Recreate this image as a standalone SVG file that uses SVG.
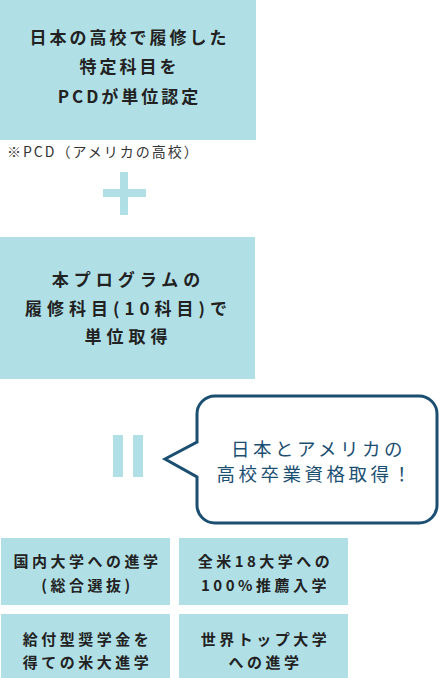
<svg xmlns="http://www.w3.org/2000/svg" width="440" height="678" viewBox="0 0 440 678">
<style>
.box{fill:#b0e0e6}
.t{font-family:"Noto Sans CJK JP","Noto Sans",sans-serif;font-weight:bold;fill:#222;text-anchor:middle}
.t1{font-size:17px;letter-spacing:3px}
.t2{font-size:17px;letter-spacing:5px}
.t3{font-size:15px;letter-spacing:3.5px}
.cap{font-family:"Noto Sans CJK JP","Noto Sans",sans-serif;font-size:14px;letter-spacing:2px;fill:#333}
.bt{font-family:"Noto Sans CJK JP","Noto Sans",sans-serif;font-size:18.5px;letter-spacing:3.5px;fill:#1b4f72;text-anchor:middle}
.sym{fill:#b0e0e6}
</style>
<rect width="440" height="678" fill="#fff"/>
<g id="node-school">
<rect class="box" x="0" y="0" width="256" height="140"/>
<text class="t t1" x="129.5" y="44">日本の高校で履修した</text>
<text class="t t1" x="129.5" y="73">特定科目を</text>
<text class="t t1" x="129.5" y="103">PCDが単位認定</text>
</g>
<text class="cap" x="7" y="157">※PCD（アメリカの高校）</text>
<g id="plus">
<rect class="sym" x="120" y="172" width="8" height="43"/>
<rect class="sym" x="103" y="189" width="43" height="8"/>
</g>
<g id="node-program">
<rect class="box" x="0" y="237" width="255" height="142"/>
<text class="t t2" x="128.5" y="286">本プログラムの</text>
<text class="t t2" x="128.5" y="315">履修科目(10科目)で</text>
<text class="t t2" x="128.5" y="343">単位取得</text>
</g>
<g id="equals">
<rect class="sym" x="113" y="435" width="10" height="42"/>
<rect class="sym" x="133" y="435" width="10" height="42"/>
</g>
<g id="node-bubble">
<path d="M215,396 H419 A18,18 0 0 1 437,414 V505 A18,18 0 0 1 419,523 H215 A18,18 0 0 1 197,505 V477 L165,459 L197,442 V414 A18,18 0 0 1 215,396 Z" fill="#fff" stroke="#1b4f72" stroke-width="3" stroke-linejoin="miter"/>
<text class="bt" x="318.5" y="456">日本とアメリカの</text>
<text class="bt" x="315.5" y="481">高校卒業資格取得！</text>
</g>
<g id="node-domestic">
<rect class="box" x="1" y="538" width="169" height="67"/>
<text class="t t3" x="87.5" y="567">国内大学への進学</text>
<text class="t t3" x="87.5" y="591">(総合選抜)</text>
</g>
<g id="node-us18">
<rect class="box" x="179" y="538" width="169" height="67"/>
<text class="t t3" x="265.5" y="567">全米18大学への</text>
<text class="t t3" x="265.5" y="591">100%推薦入学</text>
</g>
<g id="node-scholarship">
<rect class="box" x="1" y="614" width="169" height="64"/>
<text class="t t3" x="87.5" y="645">給付型奨学金を</text>
<text class="t t3" x="87.5" y="668">得ての米大進学</text>
</g>
<g id="node-top">
<rect class="box" x="179" y="614" width="169" height="64"/>
<text class="t t3" x="265.5" y="645">世界トップ大学</text>
<text class="t t3" x="265.5" y="668">への進学</text>
</g>
<g id="connectors"></g>
</svg>
